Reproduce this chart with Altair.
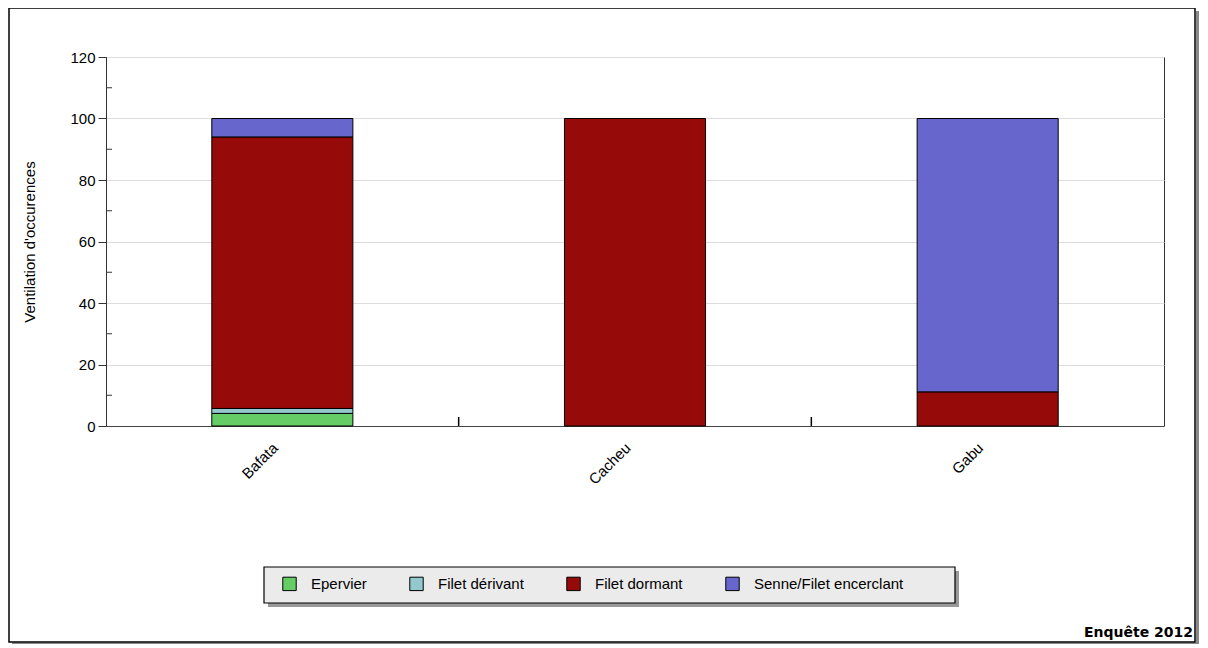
import altair as alt
import pandas as pd

regions = ["Bafata", "Cacheu", "Gabu"]
gears = ["Epervier", "Filet dérivant", "Filet dormant", "Senne/Filet encerclant"]
epervier = [4.1, 0.0, 0.0]
filet_derivant = [1.6, 0.0, 0.0]
filet_dormant = [88.3, 100.0, 11.1]
senne = [6.0, 0.0, 88.9]
colors = ["#66cc66", "#93c8cf", "#960a0a", "#6666cc"]
y_major = [0, 20, 40, 60, 80, 100, 120]
y_minor = [10, 30, 50, 70, 90, 110]
boundaries = ["Cacheu", "Gabu"]

series = [epervier, filet_derivant, filet_dormant, senne]
rows = []
for gi, (g, vals) in enumerate(zip(gears, series)):
    for r, v in zip(regions, vals):
        if v > 0:
            rows.append({"region": r, "gear": g, "value": v, "order": gi})
df = pd.DataFrame(rows)

W, H = 1058, 369
FONT = "Liberation Sans"

xscale = alt.Scale(domain=regions, paddingInner=0, paddingOuter=0)
yscale = alt.Scale(domain=[0, 120], nice=False)

xaxis = alt.Axis(labelAngle=-45, labelAlign="right", labelBaseline="middle",
                 labelPadding=19, labelOffset=-7, ticks=False, domain=True,
                 domainColor="#444444", labelFontSize=15, labelFont=FONT,
                 labelColor="#000000", title=None)
yaxis = alt.Axis(values=y_major, tickSize=8, tickColor="#333333", domainColor="#333333",
                 labelPadding=3, labelFontSize=15, labelFont=FONT, labelColor="#000000",
                 grid=True, gridColor="#dddddd", titleFontSize=15, titleFont=FONT,
                 titleFontWeight="normal", titleColor="#000000", titlePadding=32,
                 title="Ventilation d'occurences")

bars = alt.Chart(df).mark_bar(
    width=alt.RelativeBandSize(0.4), stroke="#000000", strokeWidth=1
).encode(
    x=alt.X("region:N", scale=xscale, sort=regions, axis=xaxis),
    y=alt.Y("value:Q", scale=yscale, stack="zero", axis=yaxis),
    color=alt.Color("gear:N", scale=alt.Scale(domain=gears, range=colors), title=None,
                    legend=alt.Legend(orient="none", legendX=174, legendY=517,
                                      direction="horizontal", columns=4,
                                      padding=2, symbolType="square", symbolSize=180,
                                      symbolStrokeColor="#000000", symbolStrokeWidth=1,
                                      symbolOpacity=1, labelFontSize=15, labelFont=FONT,
                                      labelColor="#000000", columnPadding=40, labelOffset=14)),
    order=alt.Order("order:Q"),
)

minor = alt.Chart(pd.DataFrame({"value": y_minor})).mark_rule(color="#333333").encode(
    y=alt.Y("value:Q", scale=yscale, axis=yaxis),
    x=alt.value(0), x2=alt.value(6),
)

xticks = alt.Chart(pd.DataFrame({"region": boundaries})).mark_rule(color="#000000", strokeWidth=1.5).encode(
    x=alt.X("region:N", scale=xscale, sort=regions, bandPosition=0, axis=xaxis),
    y=alt.value(H - 9), y2=alt.value(H),
)

one = pd.DataFrame({"k": [0]})
frame = alt.Chart(one).mark_rect(fill=None, stroke="#000000", strokeWidth=1.5).encode(
    x=alt.value(-97), x2=alt.value(1089), y=alt.value(-49), y2=alt.value(585)
)
shadow_r = alt.Chart(one).mark_rule(color="#888888", strokeWidth=3).encode(
    x=alt.value(1091.5), y=alt.value(-46), y2=alt.value(588)
)
shadow_b = alt.Chart(one).mark_rule(color="#888888", strokeWidth=3).encode(
    y=alt.value(587), x=alt.value(-94), x2=alt.value(1093)
)
leg_shadow = alt.Chart(one).mark_rect(fill="#999999").encode(
    x=alt.value(162), x2=alt.value(853), y=alt.value(514), y2=alt.value(550)
)
leg_box = alt.Chart(one).mark_rect(fill="#ebebeb", stroke="#000000", strokeWidth=1.2).encode(
    x=alt.value(158), x2=alt.value(849), y=alt.value(510), y2=alt.value(546)
)
note = alt.Chart(one).mark_text(
    text="Enquête 2012", align="right", baseline="alphabetic",
    font="DejaVu Sans", fontWeight="bold", fontSize=14, color="#000000"
).encode(x=alt.value(1087), y=alt.value(580))

chart = alt.layer(
    shadow_r, shadow_b, frame, leg_shadow, leg_box, bars, minor, xticks, note
).properties(
    width=W, height=H,
    autosize=alt.AutoSizeParams(type="none"),
    padding={"left": 98, "top": 49, "right": 36, "bottom": 218},
).configure(background="white").configure_view(stroke="#333333", strokeWidth=1)

chart.save("out.html", embed_options={"renderer": "svg", "actions": False})
